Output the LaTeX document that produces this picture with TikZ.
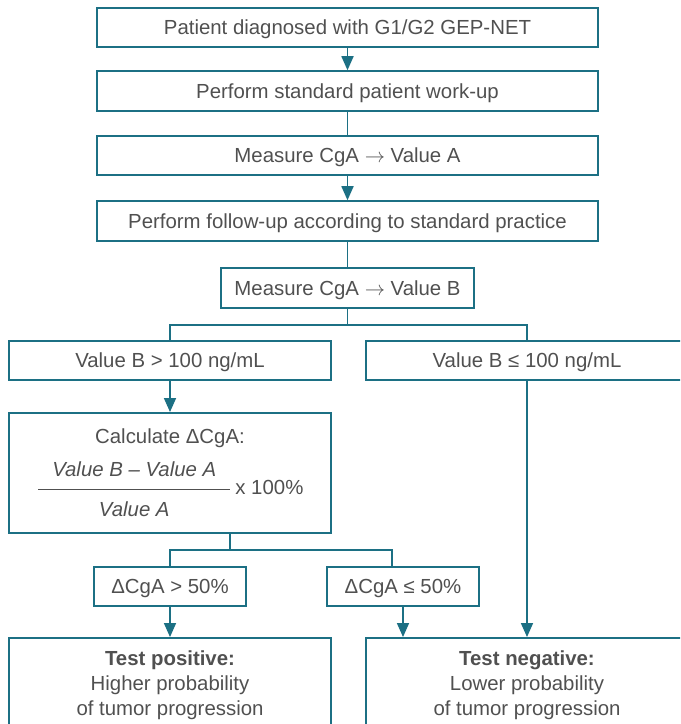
\documentclass[tikz,border=0pt]{standalone}
\usepackage{fontspec}
\setmainfont{Liberation Sans}
\usetikzlibrary{arrows.meta}
\definecolor{flowteal}{RGB}{28,112,132}
\definecolor{flowtext}{RGB}{80,80,80}
\begin{document}
\begin{tikzpicture}[x=0.025cm,y=-0.025cm,
  font=\fontsize{14.5}{17.7}\selectfont,
  box/.style={draw=flowteal, line width=1.3pt, text=flowtext, align=center, inner sep=0pt, minimum height=0.99cm},
  oneline/.style={box, text height=13pt, text depth=2.6pt},
  wide/.style={oneline, minimum width=12.525cm},
  half/.style={box, minimum width=8.05cm},
  small/.style={oneline, minimum width=3.8cm},
  link/.style={draw=flowteal, line width=1.3pt},
  arr/.style={link, -{Triangle[length=10pt,width=8.5pt]}}]
\useasboundingbox (0,0) rectangle (680,724);
\clip (0,0) rectangle (680,724);
\node[wide] (diag) at (347.5,27.5) {Patient diagnosed with G1/G2 GEP-NET};
\node[wide] (workup) at (347.5,91) {Perform standard patient work-up};
\node[wide] (vala) at (347.5,155.5) {Measure CgA $\rightarrow$ Value A};
\node[wide] (follow) at (347.5,221) {Perform follow-up according to standard practice};
\node[oneline, minimum width=6.325cm] (valb) at (347.5,288) {Measure CgA $\rightarrow$ Value B};
\node[half, oneline] (high) at (170,360.5) {Value B > 100 ng/mL};
\node[half, oneline] (low) at (527,360.5) {Value B ≤ 100 ng/mL};
\node[half, minimum height=3cm] (calc) at (170,473) {Calculate ΔCgA:\\[9pt]
  $\displaystyle\frac{\rule[-7.5pt]{0pt}{0pt}\makebox[4.8cm]{\textit{Value B – Value A}}}{\rule{0pt}{18.3pt}\textit{Value A}}$\,x 100\%};
\node[small] (dhigh) at (170,586.5) {ΔCgA > 50\%};
\node[small] (dlow) at (403,586.5) {ΔCgA ≤ 50\%};
\node[half, minimum height=2.35cm] (pos) at (170,685) {\textbf{Test positive:}\\Higher probability\\of tumor progression};
\node[half, minimum height=2.35cm] (neg) at (527,685) {\textbf{Test negative:}\\Lower probability\\of tumor progression};
\coordinate (bus1) at (347.5,325);
\coordinate (bus2) at (230,550);
\coordinate (bus3) at (392,550);
\draw[arr] (diag) -- (workup);
\draw[link] (workup) -- (vala);
\draw[arr] (vala) -- (follow);
\draw[link] (follow) -- (valb);
\draw[link] (valb) -- (bus1) -| (high.north);
\draw[link] (bus1) -| (low.north);
\draw[arr] (high) -- (calc);
\draw[link] (calc.south -| bus2) -- (bus2) -| (dhigh.north);
\draw[link] (bus2) -- (bus3) -- (bus3 |- dlow.north);
\draw[arr] (dhigh) -- (pos);
\draw[arr] (dlow.south) -- (dlow.south |- neg.north);
\draw[arr] (low) -- (neg);
\end{tikzpicture}
\end{document}
